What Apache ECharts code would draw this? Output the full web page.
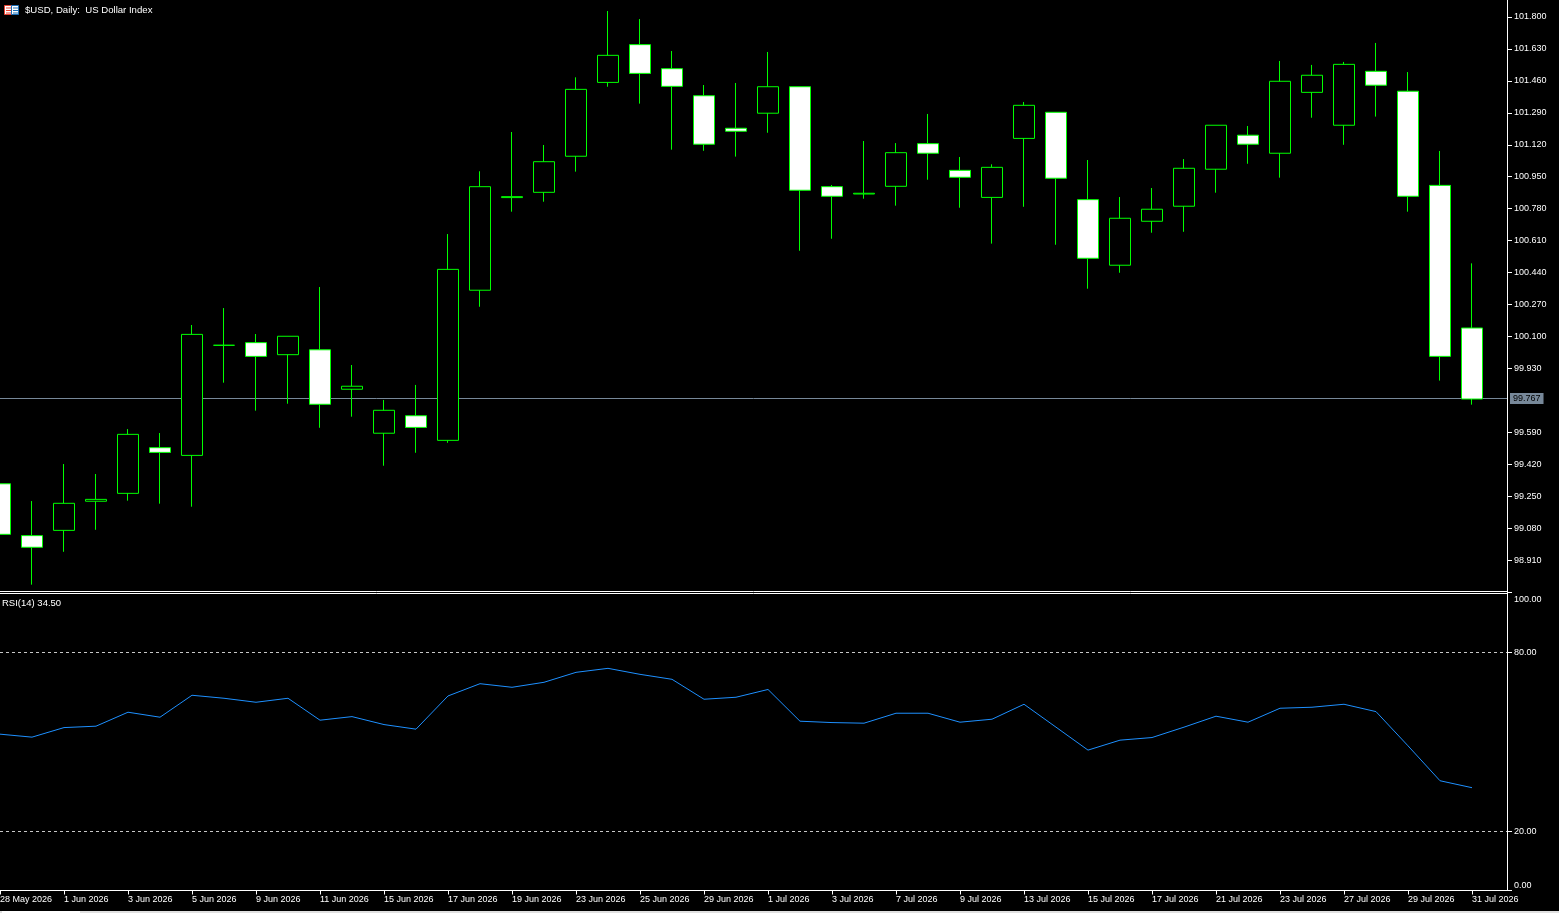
<!DOCTYPE html>
<html><head><meta charset="utf-8">
<style>html,body{margin:0;padding:0;background:#000;overflow:hidden}#c{width:1559px;height:913px}</style>
<script src="https://cdn.jsdelivr.net/npm/echarts@6/dist/echarts.min.js"></script>
</head><body><div id="c"></div>
<script>
const dates = ['28 May 2026','29 May 2026','1 Jun 2026','2 Jun 2026','3 Jun 2026','4 Jun 2026','5 Jun 2026','8 Jun 2026','9 Jun 2026','10 Jun 2026','11 Jun 2026','12 Jun 2026','15 Jun 2026','16 Jun 2026','17 Jun 2026','18 Jun 2026','19 Jun 2026','22 Jun 2026','23 Jun 2026','24 Jun 2026','25 Jun 2026','26 Jun 2026','29 Jun 2026','30 Jun 2026','1 Jul 2026','2 Jul 2026','3 Jul 2026','6 Jul 2026','7 Jul 2026','8 Jul 2026','9 Jul 2026','10 Jul 2026','13 Jul 2026','14 Jul 2026','15 Jul 2026','16 Jul 2026','17 Jul 2026','20 Jul 2026','21 Jul 2026','22 Jul 2026','23 Jul 2026','24 Jul 2026','27 Jul 2026','28 Jul 2026','29 Jul 2026','30 Jul 2026','31 Jul 2026',''];
const opens = [99.316,99.040,99.068,99.223,99.265,99.508,99.467,100.053,100.067,100.003,100.029,99.819,99.585,99.678,99.547,100.346,100.839,100.867,101.059,101.452,101.653,101.525,101.381,101.208,101.288,101.429,100.897,100.858,100.899,101.126,100.984,100.840,101.154,101.293,100.828,100.479,100.713,100.793,100.990,101.171,101.075,101.399,101.224,101.511,101.405,100.904,100.145];
const closes = [99.047,98.978,99.212,99.233,99.579,99.483,100.111,100.053,99.994,100.101,99.739,99.835,99.707,99.616,100.457,100.897,100.844,101.030,101.415,101.596,101.500,101.431,101.123,101.192,101.429,100.878,100.846,100.862,101.078,101.075,100.947,101.000,101.330,100.942,100.516,100.729,100.777,100.995,101.224,101.123,101.458,101.490,101.548,101.437,100.846,99.994,99.767];
const lows = [99.017,98.779,98.954,99.071,99.226,99.210,99.194,99.854,99.705,99.742,99.614,99.673,99.412,99.481,99.534,100.258,100.764,100.817,100.977,101.429,101.339,101.094,101.088,101.057,101.184,100.556,100.620,100.833,100.796,100.934,100.785,100.594,100.790,100.588,100.354,100.439,100.652,100.657,100.865,101.019,100.945,101.264,101.120,101.270,100.764,99.865,99.737];
const highs = [99.347,99.224,99.421,99.368,99.607,99.586,100.161,100.251,100.113,100.101,100.363,99.948,99.762,99.842,100.645,100.979,101.188,101.119,101.479,101.832,101.789,101.619,101.438,101.449,101.614,101.429,100.906,101.140,101.129,101.284,101.055,101.016,101.348,101.293,101.039,100.842,100.890,101.044,101.224,101.220,101.566,101.545,101.561,101.662,101.507,101.087,100.489];
const rsi = [52.46,51.46,54.67,55.14,59.83,58.15,65.52,64.51,63.17,64.51,57.15,58.35,55.68,54.14,65.28,69.40,68.19,69.87,73.21,74.55,72.54,70.87,64.18,64.85,67.46,56.81,56.35,56.14,59.49,59.49,56.48,57.48,62.50,54.81,47.11,50.45,51.33,54.81,58.49,56.48,61.16,61.50,62.50,60.03,48.55,36.83,34.50];
const priceTicks = [101.8,101.63,101.46,101.29,101.12,100.95,100.78,100.61,100.44,100.27,100.10,99.93,99.59,99.42,99.25,99.08,98.91];
const rsiTicks = [0,20,80,100];
const rsiLevels = [80,20];
const lastPrice = 99.767;
const priceLineLevel = 99.7697;
const titleText = '$USD, Daily:  US Dollar Index';
const rsiText = 'RSI(14) 34.50';

const FONT = 'Liberation Sans';
const FS = 9.5;
const AFS = 9;
const AXIS_X = 1507;
const candles = opens.map((o,i)=>[o,closes[i],lows[i],highs[i]]);
const hline = v => [{x:0,yAxis:v},{x:AXIS_X,yAxis:v}];
const chart = echarts.init(document.getElementById('c'),null,{renderer:'canvas',width:1559,height:913});
const yCommon = {
  position:'right', offset:-12, scale:false, splitLine:{show:false},
  axisLine:{show:true,onZero:false,lineStyle:{color:'#fff',width:1}}
};
const line = (y,x2,c) => ({type:'line',silent:true,shape:{x1:0,y1:y,x2:x2,y2:y},style:{stroke:c||'#fff',lineWidth:1}});
chart.setOption({
  animation:false,
  backgroundColor:'#000',
  title:[
    {text:titleText,left:25,top:5,padding:0,textStyle:{color:'#fff',fontFamily:FONT,fontSize:9.6,fontWeight:'normal'}},
    {text:rsiText,left:2,top:598,padding:0,textStyle:{color:'#fff',fontFamily:FONT,fontSize:FS,fontWeight:'normal'}}
  ],
  grid:[
    {left:-16,top:0,width:1536,height:592,containLabel:false,outerBoundsMode:'none'},
    {left:-16,top:592.5,width:1536,height:298,containLabel:false,outerBoundsMode:'none'}
  ],
  xAxis:[
    {type:'category',gridIndex:0,data:dates,boundaryGap:true,axisLine:{show:false},axisTick:{show:false},axisLabel:{show:false},splitLine:{show:false}},
    {type:'category',gridIndex:1,data:dates,boundaryGap:true,axisLine:{show:false,onZero:false},
     axisTick:{show:true,interval:1,alignWithLabel:true,length:4,lineStyle:{color:'#fff'}},
     axisLabel:{show:true,interval:1,hideOverlap:false,align:'left',margin:5,color:'#fff',fontFamily:FONT,fontSize:AFS,showMinLabel:true},
     splitLine:{show:false}}
  ],
  yAxis:[
    Object.assign({},yCommon,{type:'value',gridIndex:0,min:98.74,max:101.8905,offset:-13,
      axisTick:{show:true,length:5,outside:true,customValues:priceTicks,lineStyle:{color:'#fff'}},
      axisLabel:{show:true,margin:7,padding:[1,0,0,0],customValues:priceTicks,color:'#fff',fontFamily:FONT,fontSize:AFS,formatter:v=>v.toFixed(3)}}),
    Object.assign({},yCommon,{type:'value',gridIndex:1,min:0,max:100,offset:-13,
      axisTick:{show:true,length:5,outside:true,customValues:rsiTicks,lineStyle:{color:'#fff'}},
      axisLabel:{show:true,margin:7,customValues:rsiTicks,color:'#fff',fontFamily:FONT,fontSize:AFS,verticalAlignMinLabel:'bottom',verticalAlignMaxLabel:'top',
        rich:{t:{padding:[3,0,0,0],color:'#fff',fontFamily:FONT,fontSize:AFS},m:{padding:[1,0,0,0],color:'#fff',fontFamily:FONT,fontSize:AFS}},
        formatter:v=>v===100?'{t|'+v.toFixed(2)+'}':(v===0?v.toFixed(2):'{m|'+v.toFixed(2)+'}')}})
  ],
  series:[
    {type:'candlestick',xAxisIndex:0,yAxisIndex:0,data:candles,barWidth:21,z:3,
     itemStyle:{color:'#000',color0:'#fff',borderColor:'#00ff00',borderColor0:'#00ff00',borderWidth:1},
     markLine:{silent:true,z:1,symbol:'none',animation:false,precision:3,
       lineStyle:{color:'#778899',width:1,type:'solid'},
       label:{show:true,position:'end',distance:3,formatter:lastPrice.toFixed(3),color:'#000',backgroundColor:'#778899',padding:[1,3,1,3],fontFamily:FONT,fontSize:AFS},
       emphasis:{disabled:true},
       data:[hline(priceLineLevel)]}},
    {type:'line',xAxisIndex:1,yAxisIndex:1,data:rsi,symbol:'none',showSymbol:false,smooth:false,
     lineStyle:{color:'#1e90ff',width:1},
     markLine:{silent:true,symbol:'none',animation:false,
       lineStyle:{color:'#c8c8c8',width:1,type:[3,3]},label:{show:false},emphasis:{disabled:true},
       data:rsiLevels.map(hline)}}
  ],
  graphic:[
    line(591.5,AXIS_X),line(593.5,AXIS_X),line(890.5,AXIS_X+5),
    {type:'rect',silent:true,shape:{x:4.5,y:5.5,width:7,height:9},style:{fill:'#fff',stroke:'#e8402f',lineWidth:1}},
    {type:'rect',silent:true,shape:{x:11.5,y:5.5,width:7,height:9},style:{fill:'#fff',stroke:'#1a6db5',lineWidth:1}},
    {type:'rect',silent:true,shape:{x:6,y:7.5,width:5,height:1},style:{fill:'#e8402f'}},
    {type:'rect',silent:true,shape:{x:6,y:10,width:5,height:1},style:{fill:'#e8402f'}},
    {type:'rect',silent:true,shape:{x:6,y:12.5,width:5,height:1},style:{fill:'#e8402f'}},
    {type:'rect',silent:true,shape:{x:13,y:7.5,width:5,height:1},style:{fill:'#1a6db5'}},
    {type:'rect',silent:true,shape:{x:13,y:10,width:5,height:1},style:{fill:'#1a6db5'}},
    {type:'rect',silent:true,shape:{x:13,y:12.5,width:5,height:1},style:{fill:'#1a6db5'}},
    {type:'rect',silent:true,shape:{x:0,y:911,width:1559,height:2},style:{fill:'#e0e0e0'}},
    {type:'rect',silent:true,shape:{x:2,y:911,width:78,height:2},style:{fill:'#fff'}}
  ]
});
</script></body></html>
